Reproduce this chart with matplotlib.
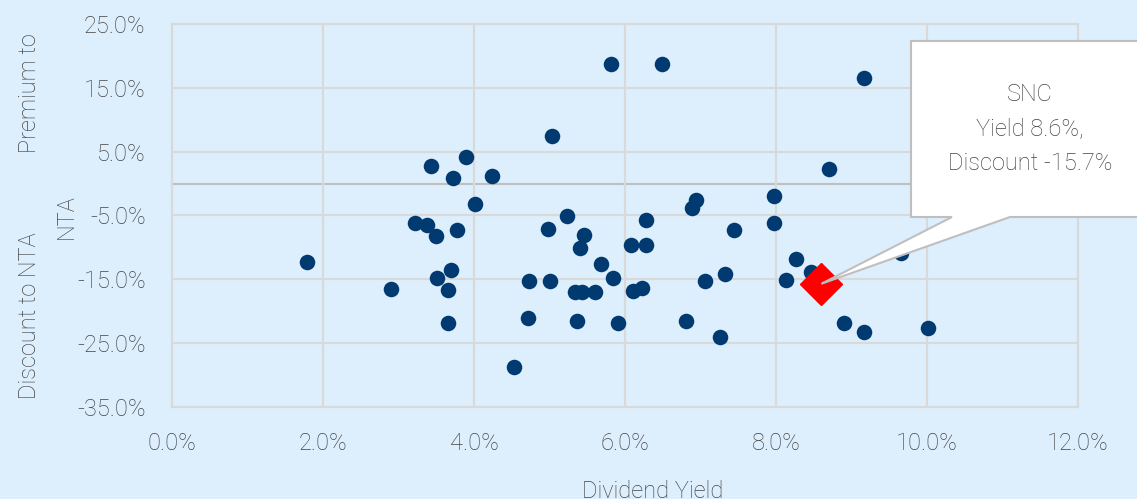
import matplotlib
matplotlib.use("Agg")
import matplotlib.pyplot as plt
from matplotlib.patches import Polygon
from matplotlib.ticker import FuncFormatter

#====Data (in %)
yields = [1.79, 2.90, 3.22, 3.38, 3.50, 3.43, 3.72, 3.90, 3.78, 3.51,
          3.70, 3.66, 3.66, 4.24, 4.01, 5.03, 5.81, 6.49, 5.23, 4.98,
          5.46, 5.40, 4.73, 5.01, 4.71, 4.53, 5.34, 5.43, 5.60, 5.68,
          5.84, 5.36, 5.91, 6.08, 6.28, 6.28, 6.10, 6.22, 6.94, 6.89,
          7.98, 7.98, 7.45, 7.06, 7.33, 6.81, 7.26, 8.13, 8.27, 8.46,
          8.90, 9.16, 10.01, 9.65, 9.17, 8.70]
premiums = [-12.3, -16.5, -6.2, -6.5, -8.2, 2.7, 0.9, 4.1, -7.3, -14.8,
            -13.5, -16.6, -21.8, 1.2, -3.2, 7.4, 18.7, 18.8, -5.1, -7.1,
            -8.0, -10.1, -15.2, -15.2, -21.0, -28.8, -17.0, -17.0, -17.0, -12.6,
            -14.8, -21.6, -21.8, -9.6, -9.6, -5.7, -16.8, -16.3, -2.6, -3.8,
            -2.0, -6.2, -7.3, -15.2, -14.1, -21.5, -24.1, -15.1, -11.8, -13.8,
            -21.8, -23.2, -22.6, -10.9, 16.6, 2.3]

snc_name = "SNC"
snc_yield = 8.6
snc_premium = -15.7

x_ticks = [0, 2, 4, 6, 8, 10, 12]
y_ticks = [-35, -25, -15, -5, 5, 15, 25]

#====Style
bg = "#DDEEFC"
grey_text = "#444444"
grid_col = "#D9D9D9"
fs = 17
fw = "light"
plt.rcParams['font.family'] = ['Roboto', 'DejaVu Sans']

fig = plt.figure(figsize=(11.37, 4.99), dpi=100, facecolor=bg)
ax = fig.add_axes([0.1513, 0.1844, 0.7968, 0.7676])
ax.set_facecolor(bg)

ax.scatter(yields, premiums, s=125, color="#003A70", zorder=3, linewidths=0)
ax.plot([snc_yield], [snc_premium], marker="D", markersize=21, color="#FF0000",
        linestyle="none", zorder=4)

ax.set_xlim(0, 12)
ax.set_ylim(-35, 25)
ax.set_xticks(x_ticks)
ax.set_yticks(y_ticks)
ax.xaxis.set_major_formatter(FuncFormatter(lambda v, p: "%.1f%%" % v))
ax.yaxis.set_major_formatter(FuncFormatter(lambda v, p: "%.1f%%" % v))
ax.tick_params(length=0, labelsize=fs, colors=grey_text)
ax.tick_params(axis="x", pad=18)
ax.tick_params(axis="y", pad=19)
for lab in ax.get_xticklabels() + ax.get_yticklabels():
    lab.set_fontweight(fw)

ax.grid(True, color=grid_col, linewidth=1.5, zorder=0)
for s in ax.spines.values():
    s.set_color(grid_col)
    s.set_linewidth(1.5)
ax.axhline(0, color="#BFBFBF", linewidth=1.5, zorder=1)

# axis titles
fig.text(653 / 1137, 1 - 491 / 499, "Dividend Yield", ha="center", va="center",
         fontsize=fs, color=grey_text, fontweight=fw)
fig.text(30 / 1137, 1 - 93 / 499, "Premium to", rotation=90, ha="center", va="center",
         fontsize=fs, color=grey_text, fontweight=fw)
fig.text(30 / 1137, 1 - 316 / 499, "Discount to NTA", rotation=90, ha="center",
         va="center", fontsize=fs, color=grey_text, fontweight=fw)
fig.text(66 / 1137, 1 - 217 / 499, "NTA", rotation=90, ha="center", va="center",
         fontsize=fs, color=grey_text, fontweight=fw)

# callout box pointing at SNC
W, H = 1137.0, 499.0
tip = ax.transData.transform((snc_yield, snc_premium))
tip = (tip[0] / W, tip[1] / H)
x0, x1 = 911 / W, 1150 / W
y0, y1 = 1 - 217 / H, 1 - 41 / H
b0, b1 = 952 / W, 1010 / W
callout = Polygon([(x0, y1), (x1, y1), (x1, y0), (b1, y0), tip, (b0, y0), (x0, y0)],
                  closed=True, transform=fig.transFigure, facecolor="white",
                  edgecolor="#BFBFBF", linewidth=1.5, zorder=10, clip_on=False)
fig.patches.append(callout)
fig.text(1030 / W, 1 - 129 / H,
         "%s\nYield %.1f%%,\nDiscount %.1f%%" % (snc_name, snc_yield, snc_premium),
         ha="center", va="center", fontsize=fs, color=grey_text, fontweight=fw,
         linespacing=1.65, zorder=11)

plt.savefig("out.png", dpi=100, facecolor=bg)
